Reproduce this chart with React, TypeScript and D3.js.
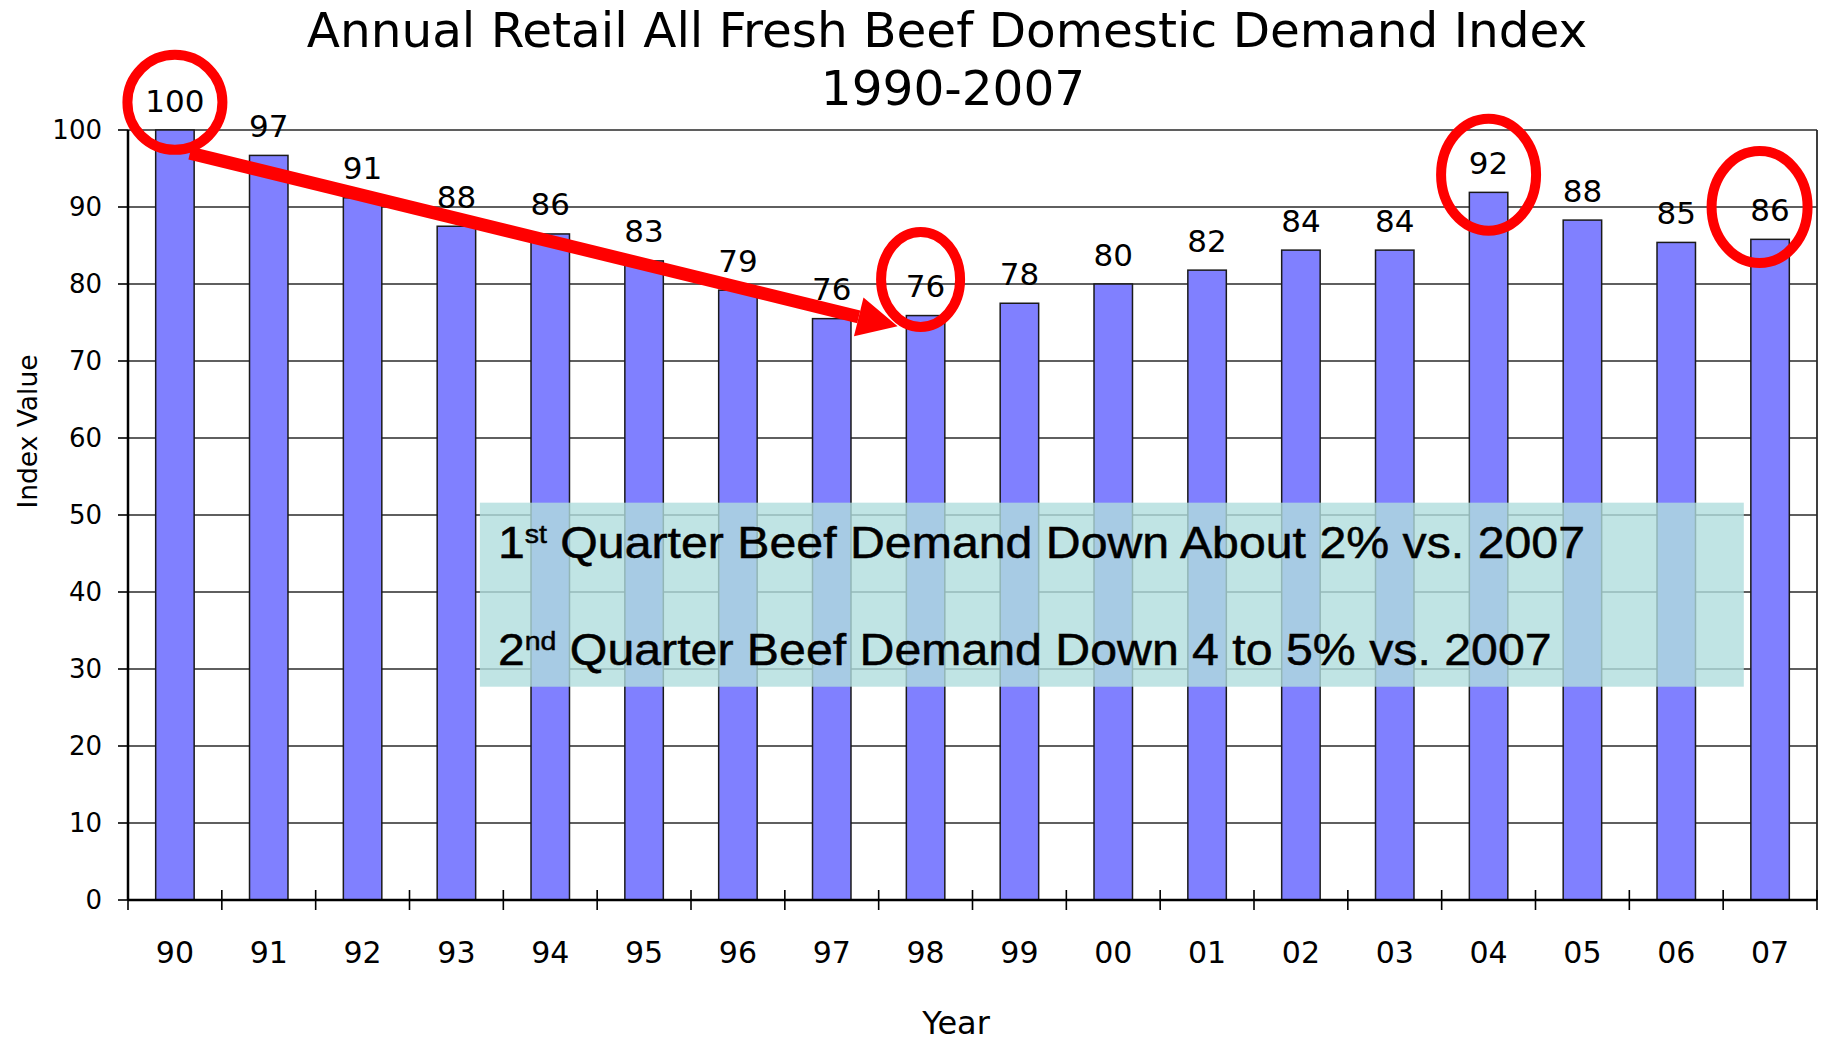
import React from "react";
import * as d3 from "d3";

const categories = ["90","91","92","93","94","95","96","97","98","99","00","01","02","03","04","05","06","07"];
const values = [100, 96.7, 91.2, 87.5, 86.5, 83.0, 79.2, 75.5, 75.9, 77.5, 80.0, 81.8, 84.4, 84.4, 91.9, 88.3, 85.4, 85.8];
const valueLabels = ["100","97","91","88","86","83","79","76","76","78","80","82","84","84","92","88","85","86"];
const yTicks = [0, 10, 20, 30, 40, 50, 60, 70, 80, 90, 100];

const titleLines = ["Annual Retail All Fresh Beef Domestic Demand Index", "1990-2007"];
const xAxisTitle = "Year";
const yAxisTitle = "Index Value";

// annotation highlights (category + value anchor)
const highlightCats = ["90", "98", "04", "07"];
const highlightValues = [103.6, 80.6, 94.2, 90.0];
const highlightDx = [0, -5, 0, -10.5];
const highlightRx = [47.5, 39.5, 47.5, 48];
const highlightRy = [47.5, 47.5, 56, 56];

// arrow from 1990 toward 1998
const arrowFrom = { cat: "90", value: 97, dx: 15 };
const arrowTo = { cat: "98", value: 74.5, dx: -28 };

// note box (category index units / value units)
const noteBox = { i0: 3.75, i1: 17.22, v0: 27.7, v1: 51.6 };
const noteLines = [
  { num: "1", sup: "st", rest: " Quarter Beef Demand Down About 2% vs. 2007", v: 44.4 },
  { num: "2", sup: "nd", rest: " Quarter Beef Demand Down 4 to 5% vs. 2007", v: 30.5 },
];

export default function App() {
  const W = 1824, H = 1042;
  const left = 128, right = 1817, top = 130, bottom = 900;
  const x = d3.scaleBand<string>().domain(categories).range([left, right]).padding(0);
  const xi = d3.scaleLinear().domain([0, categories.length]).range([left, right]);
  const y = d3.scaleLinear().domain([0, 100]).range([bottom, top]);
  const bw = x.bandwidth() * 0.41;
  const cx = (c: string) => (x(c) as number) + x.bandwidth() / 2;

  // arrow geometry
  const ax0 = cx(arrowFrom.cat) + arrowFrom.dx, ay0 = y(arrowFrom.value);
  const ax1 = cx(arrowTo.cat) + arrowTo.dx, ay1 = y(arrowTo.value);
  const ang = Math.atan2(ay1 - ay0, ax1 - ax0);
  const headLen = 40, headHalf = 20;
  const bx = ax1 - headLen * Math.cos(ang), by = ay1 - headLen * Math.sin(ang);
  const px = -Math.sin(ang), py = Math.cos(ang);
  const head = [
    [ax1, ay1],
    [bx + px * headHalf, by + py * headHalf],
    [bx - px * headHalf, by - py * headHalf],
  ];

  const font = "'DejaVu Sans', Verdana, sans-serif";
  const boxFont = "'Liberation Sans', Arial, sans-serif";

  return (
    <svg width={W} height={H} style={{ position: "absolute", left: 0, top: 0, background: "#fff" }}>
      <rect x={0} y={0} width={W} height={H} fill="#fff" />
      {/* title */}
      <text x={947} y={46.7} textAnchor="middle" fontFamily={font} fontSize={48.5} fill="#000">{titleLines[0]}</text>
      <text x={953} y={104.7} textAnchor="middle" fontFamily={font} fontSize={48.5} fill="#000">{titleLines[1]}</text>

      {/* gridlines */}
      {yTicks.map((t) => (
        <line key={"g" + t} x1={left} x2={right} y1={y(t)} y2={y(t)} stroke="#2a2a2a" strokeWidth={1.6} />
      ))}
      {/* right border */}
      <line x1={right} x2={right} y1={top} y2={bottom} stroke="#2a2a2a" strokeWidth={1.8} />

      {/* bars */}
      {categories.map((c, i) => (
        <rect key={"b" + c} x={cx(c) - bw / 2} y={y(values[i])} width={bw} height={y(0) - y(values[i])}
          fill="#8080ff" stroke="#1a1a1a" strokeWidth={1.5} />
      ))}

      {/* axes */}
      <line x1={left} x2={left} y1={top} y2={bottom} stroke="#000" strokeWidth={2.5} />
      <line x1={left} x2={right} y1={bottom} y2={bottom} stroke="#000" strokeWidth={2.5} />
      {yTicks.map((t) => (
        <g key={"yt" + t}>
          <line x1={left - 10} x2={left} y1={y(t)} y2={y(t)} stroke="#000" strokeWidth={1.6} />
          <text x={102} y={y(t)} dy="0.36em" textAnchor="end" fontFamily={font} fontSize={26} fill="#000">{t}</text>
        </g>
      ))}
      {categories.map((c, i) => (
        <line key={"xt" + i} x1={x(c) as number} x2={x(c) as number} y1={i === 0 ? bottom : bottom - 10} y2={bottom + 10}
          stroke="#000" strokeWidth={1.6} />
      ))}
      <line x1={right} x2={right} y1={bottom - 10} y2={bottom + 10} stroke="#000" strokeWidth={1.6} />
      {categories.map((c) => (
        <text key={"xl" + c} x={cx(c)} y={963.3} textAnchor="middle" fontFamily={font} fontSize={30} fill="#000">{c}</text>
      ))}

      {/* value labels */}
      {categories.map((c, i) => (
        <text key={"vl" + c} x={cx(c)} y={y(values[i]) - 18.5} textAnchor="middle" fontFamily={font} fontSize={31} fill="#000">{valueLabels[i]}</text>
      ))}

      {/* axis titles */}
      <text x={956} y={1034} textAnchor="middle" fontFamily={font} fontSize={32} fill="#000">{xAxisTitle}</text>
      <text transform="translate(36.7,431.5) rotate(-90)" textAnchor="middle" fontFamily={font} fontSize={26.5} fill="#000">{yAxisTitle}</text>

      {/* note box */}
      <rect x={xi(noteBox.i0)} y={y(noteBox.v1)} width={xi(noteBox.i1) - xi(noteBox.i0)} height={y(noteBox.v0) - y(noteBox.v1)}
        fill="#b0dddd" fillOpacity={0.8} />
      {noteLines.map((l, k) => (
        <g key={"n" + k} transform={`translate(${xi(noteBox.i0) + 18},${y(l.v)}) scale(1.097,1)`}>
          <text x={0} y={0} fontFamily={boxFont} fontSize={44} fill="#000" stroke="#000" strokeWidth={0.5}>
            {l.num}
            <tspan fontSize={26} dy={-15}>{l.sup}</tspan>
            <tspan dy={15}>{l.rest}</tspan>
          </text>
        </g>
      ))}

      {/* arrow */}
      <line x1={ax0} y1={ay0} x2={bx} y2={by} stroke="#ff0000" strokeWidth={13} />
      <polygon points={head.map((p) => p.join(",")).join(" ")} fill="#ff0000" />

      {/* highlight ellipses */}
      {highlightCats.map((c, k) => (
        <ellipse key={"e" + k} cx={cx(c) + highlightDx[k]} cy={y(highlightValues[k])} rx={highlightRx[k]} ry={highlightRy[k]}
          fill="none" stroke="#ff0000" strokeWidth={10} />
      ))}
    </svg>
  );
}
